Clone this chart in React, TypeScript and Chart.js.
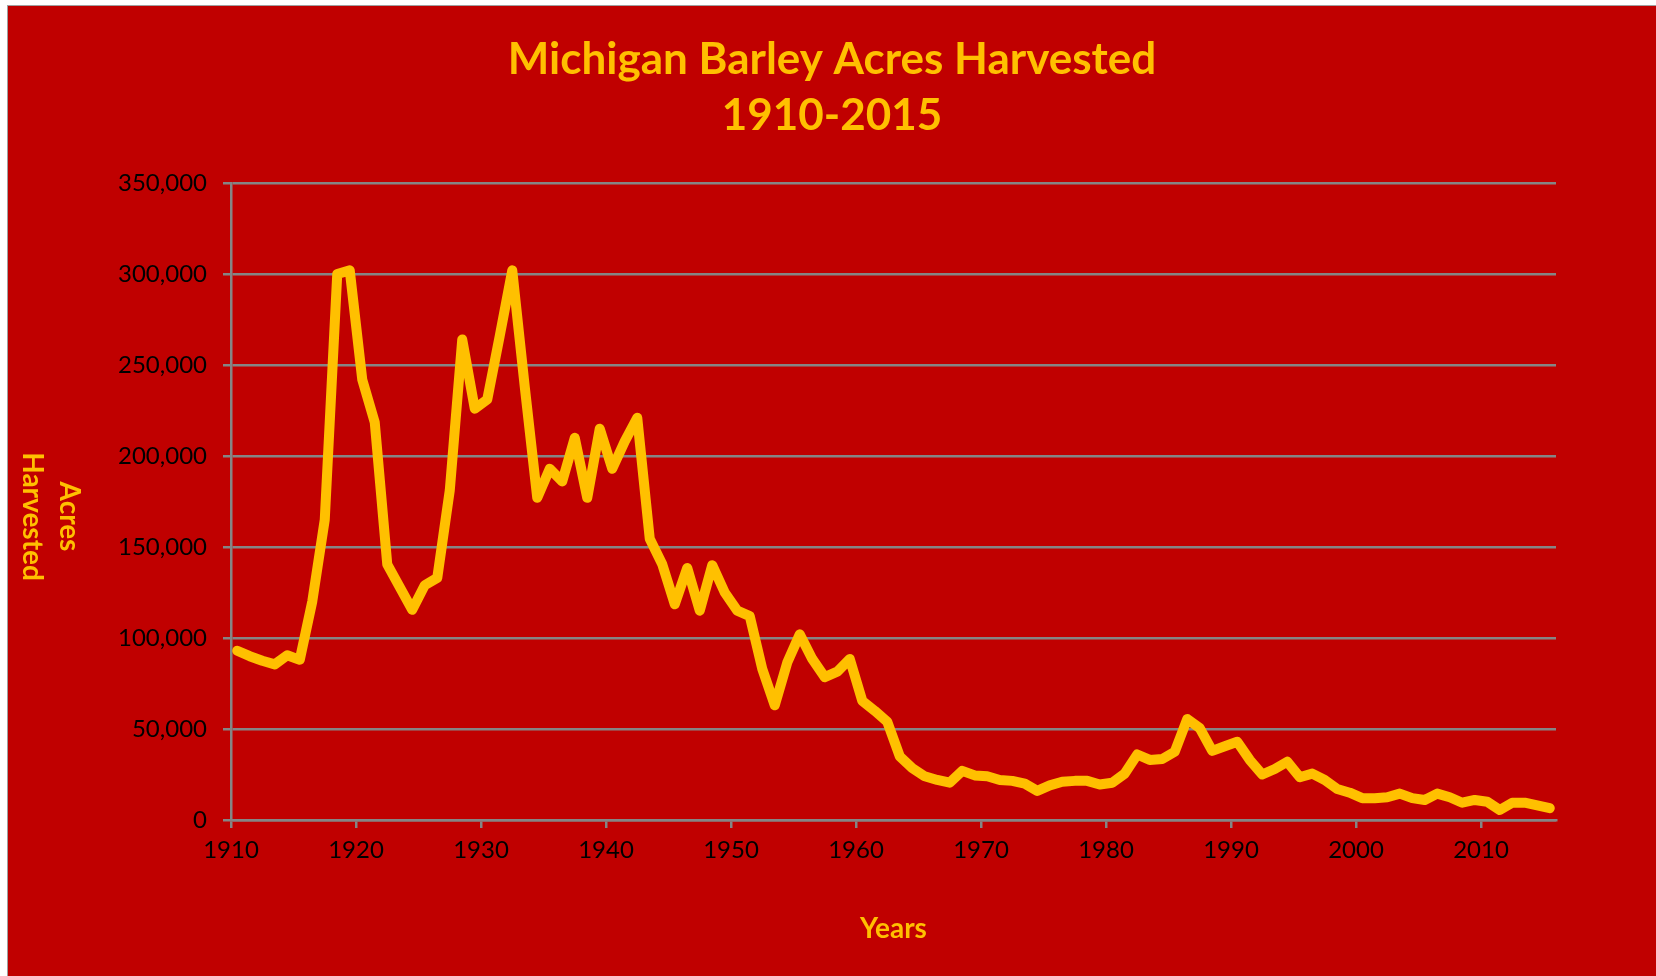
import React, { useEffect, useRef } from "react";
import { Chart, registerables } from "chart.js";

Chart.register(...registerables);

const titleLines = ["Michigan Barley Acres Harvested", "1910-2015"];
const yTitleLines = ["Acres", "Harvested"];
const xTitle = "Years";

const years = [
  1910, 1911, 1912, 1913, 1914, 1915, 1916, 1917, 1918, 1919,
  1920, 1921, 1922, 1923, 1924, 1925, 1926, 1927, 1928, 1929,
  1930, 1931, 1932, 1933, 1934, 1935, 1936, 1937, 1938, 1939,
  1940, 1941, 1942, 1943, 1944, 1945, 1946, 1947, 1948, 1949,
  1950, 1951, 1952, 1953, 1954, 1955, 1956, 1957, 1958, 1959,
  1960, 1961, 1962, 1963, 1964, 1965, 1966, 1967, 1968, 1969,
  1970, 1971, 1972, 1973, 1974, 1975, 1976, 1977, 1978, 1979,
  1980, 1981, 1982, 1983, 1984, 1985, 1986, 1987, 1988, 1989,
  1990, 1991, 1992, 1993, 1994, 1995, 1996, 1997, 1998, 1999,
  2000, 2001, 2002, 2003, 2004, 2005, 2006, 2007, 2008, 2009,
  2010, 2011, 2012, 2013, 2014, 2015,
];

const acresHarvested = [
  93000, 90000, 87500, 85500, 90500, 88000, 120000, 165000, 300000, 302000,
  242000, 218500, 140500, 128000, 115500, 129000, 133000, 181000, 264000, 226000,
  231000, 266000, 302000, 238000, 177000, 193000, 186000, 210000, 177000, 215000,
  193000, 208000, 221000, 154500, 140500, 118500, 138500, 115000, 140000, 125000,
  115000, 112000, 83000, 63000, 86500, 102000, 88500, 78500, 81500, 88500,
  65500, 60000, 54000, 35000, 28500, 24000, 22000, 20500, 27000, 24500,
  24000, 22000, 21500, 20000, 16000, 19000, 21000, 21500, 21500, 19500,
  20500, 25500, 36000, 33000, 33500, 37500, 55500, 50500, 38000, 40500,
  43000, 33000, 25000, 28000, 32000, 23500, 25500, 22000, 17000, 15000,
  12000, 12000, 12500, 14500, 12000, 11000, 14500, 12500, 9500, 11000,
  10000, 5500, 9500, 9500, 8000, 6500,
];

const xTickLabels = ["1910", "1920", "1930", "1940", "1950", "1960", "1970", "1980", "1990", "2000", "2010"];
const yMin = 0;
const yMax = 350000;
const yStep = 50000;

const GOLD = "#FFC000";
const RED = "#C00000";
const GRID = "#858585";
const FONT = "Lato, 'Open Sans', sans-serif";

export default function App() {
  const canvasRef = useRef<HTMLCanvasElement | null>(null);

  useEffect(() => {
    document.body.style.margin = "0";
    document.documentElement.style.overflow = "hidden";
    const canvas = canvasRef.current;
    if (!canvas) return;

    const yTitlePlugin = {
      id: "yTitleRotated",
      afterDraw(chart: any) {
        const ctx = chart.ctx;
        const cy = (chart.chartArea.top + chart.chartArea.bottom) / 2 + 15;
        const xs = [61, 24];
        ctx.save();
        ctx.fillStyle = GOLD;
        ctx.font = `bold 28px ${FONT}`;
        ctx.textAlign = "center";
        ctx.textBaseline = "middle";
        yTitleLines.forEach((line, i) => {
          ctx.save();
          ctx.translate(xs[i], cy);
          ctx.rotate(Math.PI / 2);
          ctx.fillText(line, 0, 0);
          ctx.restore();
        });
        ctx.restore();
      },
    };

    const chart = new Chart(canvas, {
      type: "line",
      data: {
        datasets: [
          {
            label: "Acres Harvested",
            data: years.map((yr, i) => ({ x: yr, y: acresHarvested[i] })),
            borderColor: GOLD,
            backgroundColor: GOLD,
            borderWidth: 10,
            pointRadius: 0,
            tension: 0,
            borderJoinStyle: "round",
            borderCapStyle: "round",
            fill: false,
          },
        ],
      },
      options: {
        responsive: false,
        animation: false,
        devicePixelRatio: 1,
        layout: { padding: 0 },
        plugins: {
          legend: { display: false },
          tooltip: { enabled: false },
          title: {
            display: true,
            text: titleLines,
            color: GOLD,
            font: { family: FONT, size: 44, weight: "bold", lineHeight: 1.2727 },
            padding: { top: 26, bottom: 39 },
          },
        },
        scales: {
          x: {
            type: "linear",
            min: 1909.5,
            max: 2015.5,
            afterBuildTicks: (scale: any) => {
              scale.ticks = xTickLabels.map((l) => ({ value: Number(l) - 0.5 }));
            },
            afterFit: (scale: any) => {
              scale.height = 156;
            },
            ticks: {
              autoSkip: false,
              maxRotation: 0,
              color: "#000",
              padding: 8,
              font: { family: FONT, size: 24 },
              callback: (_v: any, i: number) => xTickLabels[i],
            },
            grid: {
              drawOnChartArea: false,
              drawTicks: true,
              tickLength: 8,
              color: GRID,
              lineWidth: 2.5,
            },
            border: { display: true, color: GRID, width: 2.5 },
            title: {
              display: true,
              text: xTitle,
              color: GOLD,
              font: { family: FONT, size: 28, weight: "bold", lineHeight: 1.2 },
              padding: { top: 0, bottom: 30 },
            },
          },
          y: {
            type: "linear",
            position: "left",
            min: yMin,
            max: yMax,
            afterFit: (scale: any) => {
              scale.width = 223;
            },
            ticks: {
              stepSize: yStep,
              color: "#000",
              padding: 16,
              font: { family: FONT, size: 24 },
              callback: (v: any) => Number(v).toLocaleString("en-US"),
            },
            grid: {
              drawOnChartArea: true,
              drawTicks: true,
              tickLength: 8,
              color: GRID,
              lineWidth: 2.5,
            },
            border: { display: true, color: GRID, width: 2.5 },
          },
          rightSpace: {
            type: "linear",
            position: "right",
            min: yMin,
            max: yMax,
            afterFit: (scale: any) => {
              scale.width = 100;
            },
            ticks: { display: false },
            grid: { display: false, drawOnChartArea: false, drawTicks: false },
            border: { display: false },
          },
        },
      },
      plugins: [yTitlePlugin],
    });

    return () => chart.destroy();
  }, []);

  return (
    <div
      style={{
        position: "absolute",
        left: 7,
        top: 5,
        borderLeft: "1px solid #a0a0a0",
        borderTop: "1px solid #a0a0a0",
        width: 1648,
        height: 970,
      }}
    >
      <canvas
        ref={canvasRef}
        width={1648}
        height={970}
        style={{ display: "block", background: RED, width: 1648, height: 970 }}
      />
    </div>
  );
}
